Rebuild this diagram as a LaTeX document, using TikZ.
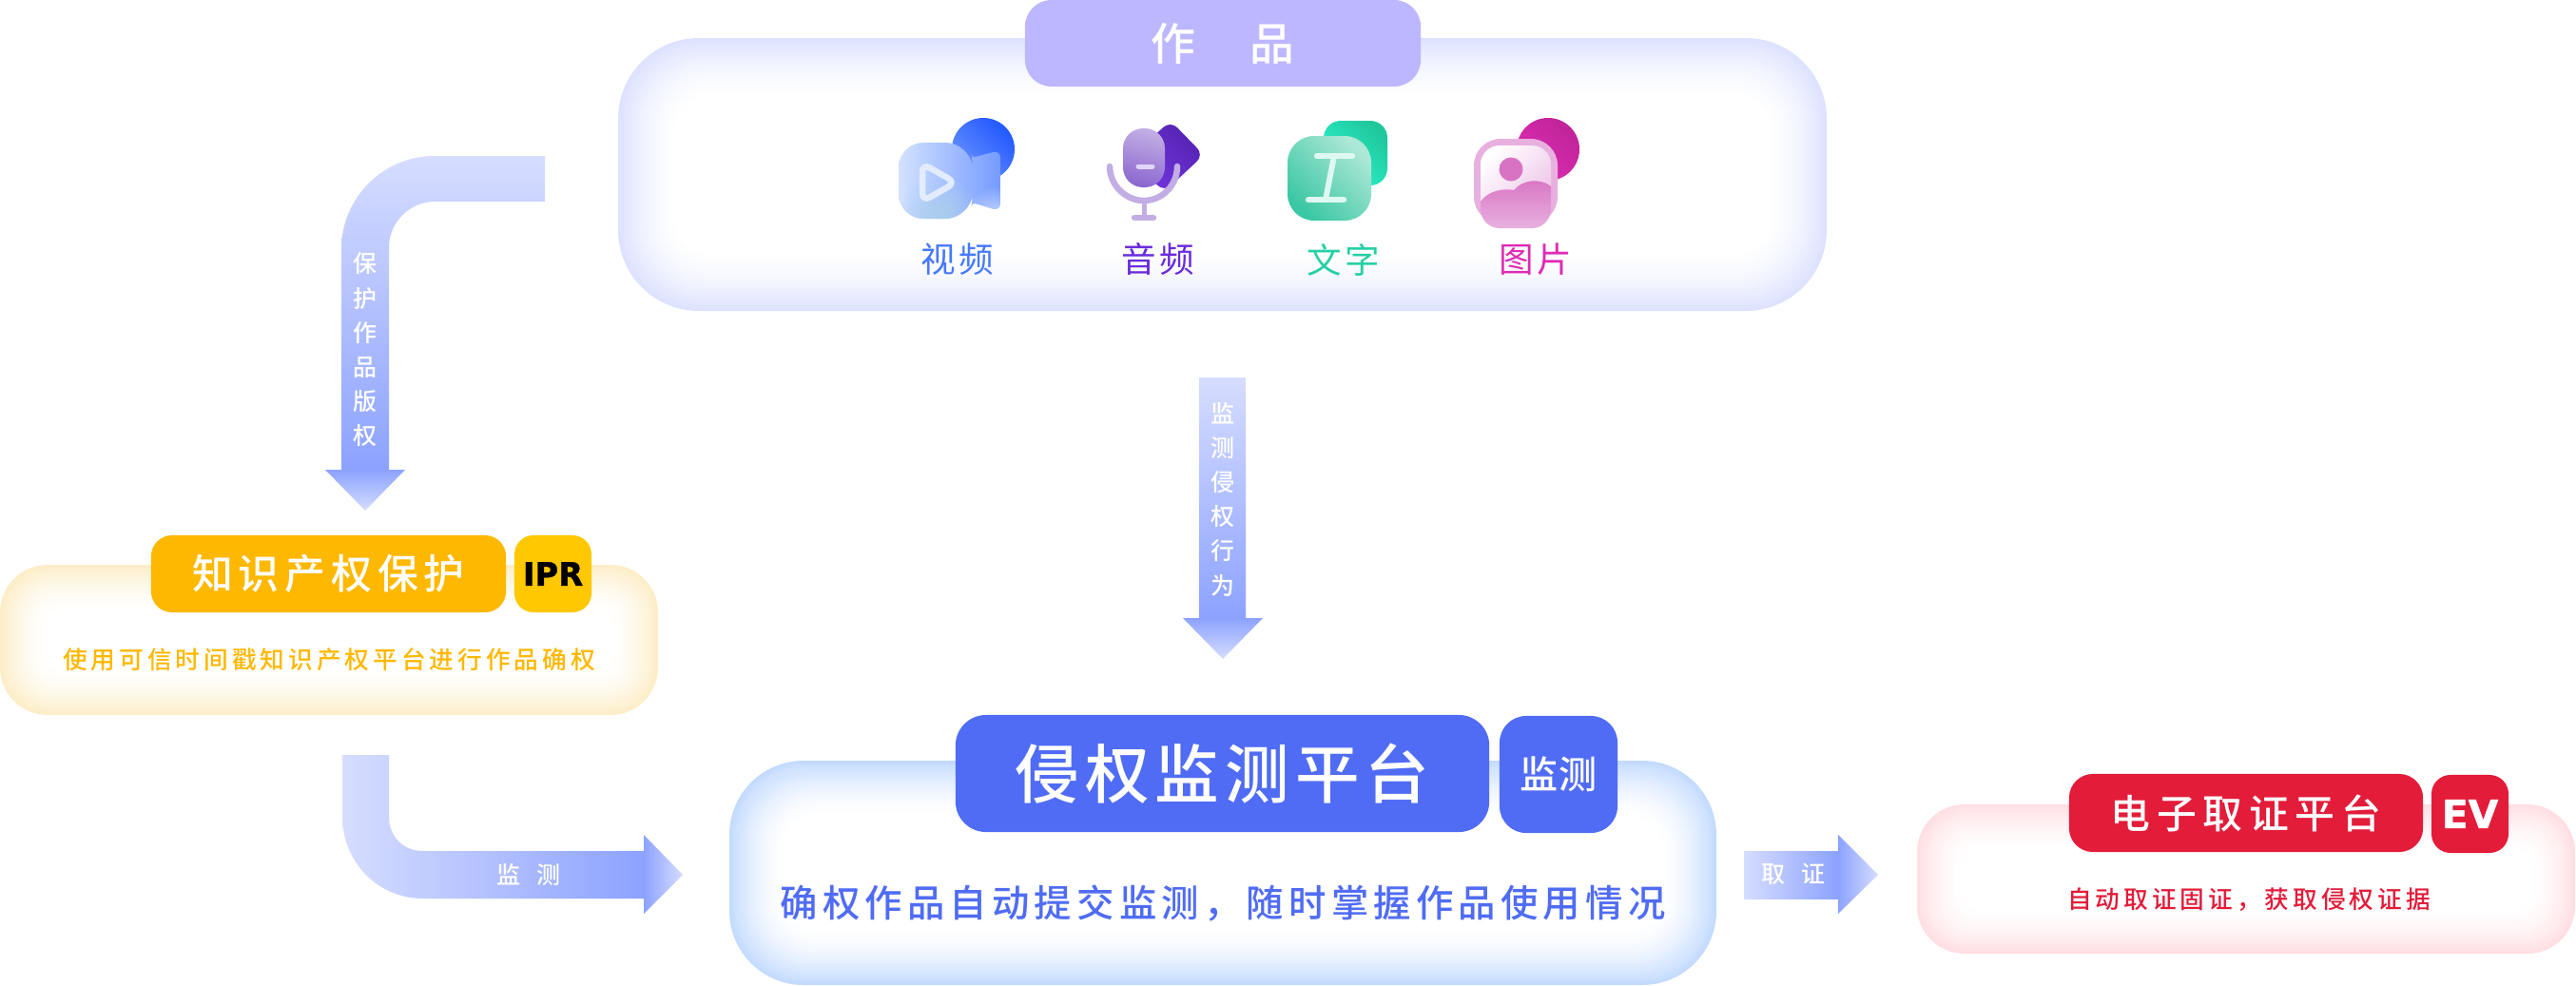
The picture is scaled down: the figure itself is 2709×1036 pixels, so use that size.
\documentclass[tikz,border=0pt]{standalone}
\usepackage{fontspec}
\usetikzlibrary{fadings}
\newfontfamily\cjk[BoldFont={Noto Sans CJK SC Medium}]{Noto Sans CJK SC}
\newfontfamily\logofont[FakeBold=1.2]{DejaVu Sans Bold}

\definecolor{arrowpale}{HTML}{D6DDFF}
\definecolor{arrowdeep}{HTML}{8CA2FF}
\definecolor{worksedge}{HTML}{DDE2FF}
\definecolor{workstitle}{HTML}{BDB7FF}
\definecolor{iprgold}{HTML}{FFB800}
\definecolor{iprbadge}{HTML}{FFC800}
\definecolor{ipredge}{HTML}{FDEEC8}
\definecolor{monitorblue}{HTML}{506CF4}
\definecolor{monitoredge}{HTML}{C4DBFF}
\definecolor{evidencered}{HTML}{E31C3A}
\definecolor{evidenceedge}{HTML}{FFDFE3}
\definecolor{videoblue}{HTML}{4779FF}
\definecolor{videodeep}{HTML}{2258FF}
\definecolor{videolight}{HTML}{D2E2FF}
\definecolor{videohaze}{HTML}{A9CEEA}
\definecolor{audiopurple}{HTML}{6A2BDD}
\definecolor{micpale}{HTML}{C2AEE4}
\definecolor{micdeep}{HTML}{8C68CF}
\definecolor{textgreen}{HTML}{25D0A6}
\definecolor{backgreen}{HTML}{1FC79C}
\definecolor{brightgreen}{HTML}{2CF5D0}
\definecolor{greenpale}{HTML}{AEE8D7}
\definecolor{greendeep}{HTML}{3AC7A3}
\definecolor{imagepink}{HTML}{E02BB4}
\definecolor{pinkglass}{HTML}{E8B0DF}
\definecolor{pinkhill}{HTML}{D873C3}

\tikzfading[name=softdisc, inner color=transparent!0, outer color=transparent!100]

% panel with a soft inner rim: x0, y0, x1, y1, radius, colour, depth
\newcommand{\glowpanel}[7]{
    \foreach \i in {0,2,...,#7} {
        \pgfmathsetmacro{\mixval}{100*(1-\i/#7)^1.6}
        \pgfmathsetlengthmacro{\cornerval}{max(#5-\i*0.7,8)*0.01cm}
        \fill[#6!\mixval!white, rounded corners=\cornerval]
            ({#1+\i},{#2+\i}) rectangle ({#3-\i},{#4-\i});
    }
}
\newcommand{\lowertext}[2]{\raisebox{-#1}{#2}}

\tikzset{
    badge/.style={inner sep=0pt, text=white, rounded corners=#1},
    flowtext/.style={text=white, inner sep=0pt, align=center, font=\cjk\bfseries\fontsize{7.1}{10.3}\selectfont},
    iconlabel/.style={inner sep=0pt, font=\cjk\fontsize{10.4}{12}\selectfont\addfontfeature{LetterSpace=9}},
}

\begin{document}
\begin{tikzpicture}[x=0.01cm, y=-0.01cm]
    \useasboundingbox (0,0) rectangle (2709,1036);

    % panels
    \glowpanel{650}{40}{1921}{327}{85}{worksedge}{62}
    \glowpanel{0}{594}{692}{752}{50}{ipredge}{50}
    \glowpanel{767}{800}{1805}{1036}{78}{monitoredge}{58}
    \glowpanel{2016}{846}{2708}{1003}{50}{evidenceedge}{48}

    % titles
    \node[badge=0.28cm, fill=workstitle, minimum width=4.16cm, minimum height=0.91cm, font=\cjk\bfseries\fontsize{13.3}{15}\selectfont\addfontfeature{LetterSpace=122}] (worksTitle) at (1286,45.5) {\lowertext{0.4pt}{作品}};

    \node[badge=0.22cm, fill=iprgold, minimum width=3.73cm, minimum height=0.81cm, font=\cjk\bfseries\fontsize{12.2}{14}\selectfont\addfontfeature{LetterSpace=13.5}] (iprTitle) at (345.5,603.5) {\lowertext{0.4pt}{知识产权保护}};
    \node[badge=0.2cm, fill=iprbadge, minimum width=0.81cm, minimum height=0.81cm, text=black, font=\logofont\fontsize{9.6}{11}\selectfont] (iprBadge) at (581.5,603.5) {\lowertext{0.3pt}{IPR}};
    \node[inner sep=0pt, text=iprgold, font=\cjk\bfseries\fontsize{7.3}{9}\selectfont\addfontfeature{LetterSpace=15.5}] (iprNote) at (346,694) {使用可信时间戳知识产权平台进行作品确权};

    \node[badge=0.32cm, fill=monitorblue, minimum width=5.61cm, minimum height=1.23cm, font=\cjk\bfseries\fontsize{19.2}{22}\selectfont\addfontfeature{LetterSpace=9}] (monitorTitle) at (1285.5,813.5) {\lowertext{0.8pt}{侵权监测平台}};
    \node[badge=0.28cm, fill=monitorblue, minimum width=1.24cm, minimum height=1.23cm, font=\cjk\bfseries\fontsize{11.4}{14}\selectfont] (monitorBadge) at (1639,814.5) {监测};
    \node[inner sep=0pt, text=monitorblue, font=\cjk\bfseries\fontsize{11.2}{13}\selectfont\addfontfeature{LetterSpace=13.2}] (monitorNote) at (1286,950.5) {确权作品自动提交监测，随时掌握作品使用情况};

    \node[badge=0.25cm, fill=evidencered, minimum width=3.72cm, minimum height=0.82cm, font=\cjk\bfseries\fontsize{11.9}{14}\selectfont\addfontfeature{LetterSpace=16}] (evidenceTitle) at (2362,855) {\lowertext{0.8pt}{电子取证平台}};
    \node[badge=0.2cm, fill=evidencered, minimum width=0.81cm, minimum height=0.82cm, font=\logofont\fontsize{11.6}{14}\selectfont] (evidenceBadge) at (2597.5,856) {\lowertext{0.4pt}{EV}};
    \node[inner sep=0pt, text=evidencered, font=\cjk\bfseries\fontsize{7.3}{9}\selectfont\addfontfeature{LetterSpace=15.5}] (evidenceNote) at (2365,946) {自动取证固证，获取侵权证据};

    % block arrows
    \shade[top color=arrowpale, bottom color=arrowdeep]
        (573,164) -- (457,164) .. controls (403,164) and (359,208) .. (359,262) -- (359,494) -- (409,494) -- (409,260) .. controls (409,234) and (431,212) .. (457,212) -- (573,212) -- cycle;
    \shade[top color=arrowdeep, bottom color=arrowpale] (342,494) -- (426,494) -- (384,537) -- cycle;
    \node[flowtext] (protectLabel) at (384,368) {保\\护\\作\\品\\版\\权};

    \shade[top color=arrowpale, bottom color=arrowdeep] (1261,397) rectangle (1310,650);
    \shade[top color=arrowdeep, bottom color=arrowpale] (1244,650) -- (1328,650) -- (1286,693) -- cycle;
    \node[flowtext] (watchLabel) at (1285.5,525) {监\\测\\侵\\权\\行\\为};

    \shade[left color=arrowpale, right color=arrowdeep]
        (360,794) -- (360,859) .. controls (360,906) and (397,945) .. (445,945) -- (677,945) -- (677,895) -- (445,895) .. controls (424,895) and (409,880) .. (409,859) -- (409,794) -- cycle;
    \shade[left color=arrowdeep, right color=arrowpale] (677,878) -- (718,920) -- (677,961) -- cycle;
    \node[flowtext, font=\cjk\bfseries\fontsize{7.1}{9}\selectfont\addfontfeature{LetterSpace=65}] (watchShortLabel) at (556,920) {监测};

    \shade[left color=arrowpale, right color=arrowdeep] (1834,895) rectangle (1933,945);
    \shade[left color=arrowdeep, right color=arrowpale] (1933,878) -- (1975,920) -- (1933,961) -- cycle;
    \node[flowtext, font=\cjk\bfseries\fontsize{7.1}{9}\selectfont\addfontfeature{LetterSpace=65}] (evidenceShortLabel) at (1886,919) {取证};

    % video icon
    \shade[left color=videodeep, right color=videoblue!80!white, shading angle=-45] (1034,157) circle[radius=33];
    \begin{scope}
        \clip (945,190) [rounded corners=0.26cm] -- (945,150) -- (1020,150) [rounded corners=0.04cm] -- (1022,166) [rounded corners=0.08cm] -- (1052,158) -- (1052,222) [rounded corners=0.04cm] -- (1022,213) [rounded corners=0.26cm] -- (1020,230) -- (945,230) -- cycle;
        \shade[left color=videolight, middle color=videolight!80!videoblue, right color=videoblue!75!white] (945,145) rectangle (1052,235);
        \fill[videohaze, path fading=softdisc] (988,228) circle[radius=44];
        \fill[videolight, path fading=softdisc] (1048,232) circle[radius=36];
    \end{scope}
    \draw[white!85!videoblue, line width=0.065cm, rounded corners=0.09cm] (970,172) -- (1005,192) -- (970,212) -- cycle;
    \node[iconlabel, text=videoblue] (videoLabel) at (1007,273) {视频};

    % audio icon
    \shade[left color=audiopurple!80!black, right color=audiopurple!95!white, shading angle=-45, rounded corners=0.1cm] (1231,127) -- (1266,163) -- (1224,202) -- (1189,165) -- cycle;
    \shade[left color=micpale, right color=micdeep, shading angle=-15, rounded corners=0.21cm] (1181,135) rectangle (1225,197);
    \draw[white!80!audiopurple, line width=0.05cm, line cap=round] (1197,175) -- (1212,175);
    \draw[micpale, line width=0.065cm, line cap=round] (1167,175) .. controls (1167,195) and (1184,211) .. (1203,211) .. controls (1222,211) and (1238,195) .. (1238,175);
    \draw[micpale, line width=0.05cm] (1203,211) -- (1203,229);
    \draw[micpale, line width=0.065cm, line cap=round] (1193,229) -- (1213,229);
    \node[iconlabel, text=audiopurple] (audioLabel) at (1218,273) {音频};

    % text icon
    \shade[left color=backgreen, right color=brightgreen, shading angle=-45, rounded corners=0.18cm] (1392,127) rectangle (1459,195);
    \shade[left color=greenpale, right color=greendeep, shading angle=-45, rounded corners=0.28cm] (1354,143) rectangle (1442,232);
    \draw[white!85!textgreen, line width=0.065cm, line cap=round] (1385,164) -- (1422,164);
    \draw[white!85!textgreen, line width=0.065cm, line cap=round] (1376,210) -- (1413,210);
    \draw[white!85!textgreen, line width=0.06cm] (1403,164) -- (1394,210);
    \node[iconlabel, text=textgreen] (textLabel) at (1413,273) {文字};

    % image icon
    \shade[left color=imagepink!85!black, right color=imagepink, shading angle=-45] (1628,157) circle[radius=33];
    \fill[pinkglass, rounded corners=0.28cm] (1550,146) rectangle (1638,235);
    \begin{scope}
        \clip[rounded corners=0.2cm] (1557,153) rectangle (1631,240);
        \shade[left color=white, right color=pinkglass!70!white, shading angle=45] (1557,153) rectangle (1631,215);
        \shade[top color=pinkhill, bottom color=pinkglass] (1557,240) -- (1557,212) .. controls (1565,200) and (1582,198) .. (1592,200) .. controls (1600,190) and (1618,186) .. (1631,196) -- (1631,240) -- cycle;
    \end{scope}
    \fill[pinkhill] (1589,178) circle[radius=12.5];
    \node[iconlabel, text=imagepink] (imageLabel) at (1615,273) {图片};

\end{tikzpicture}
\end{document}
